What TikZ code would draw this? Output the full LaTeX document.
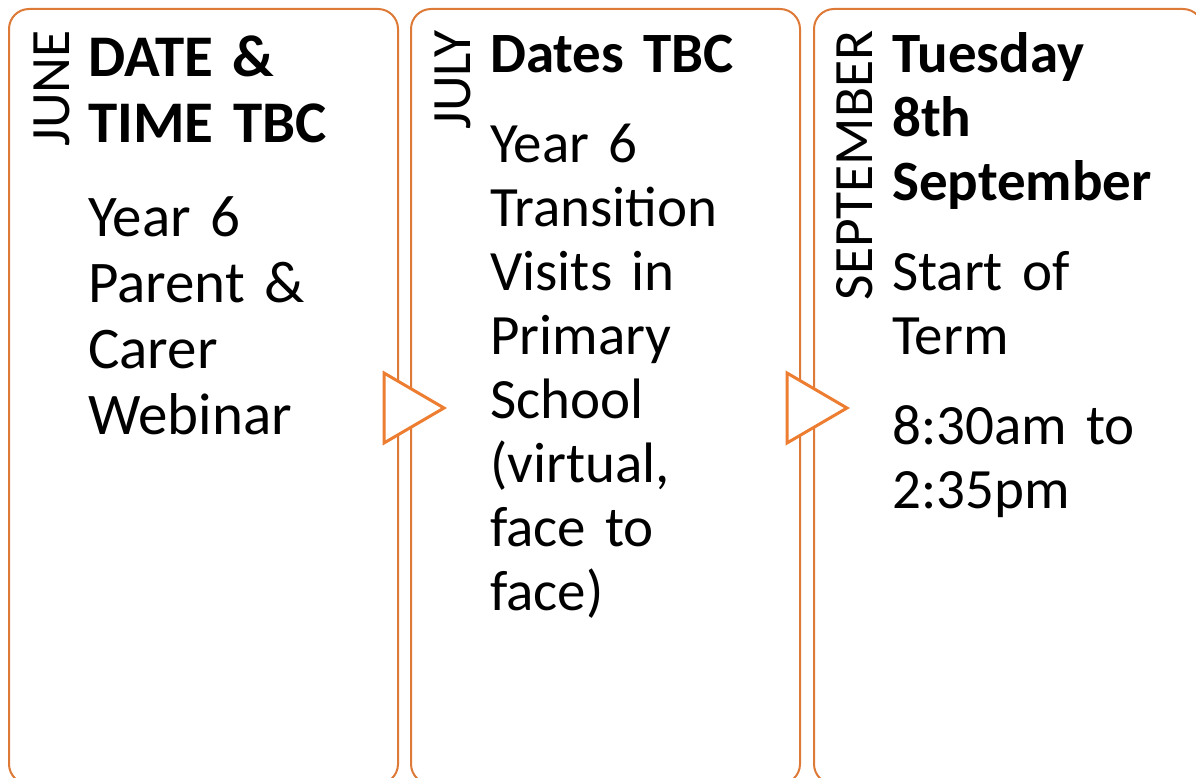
\documentclass[tikz,border=0pt]{standalone}
\usepackage{fontspec}
\setmainfont{Carlito}
\usetikzlibrary{calc}
\setlength{\parindent}{0pt}

\definecolor{cardline}{HTML}{DE7A38}
\definecolor{chevron}{HTML}{ED7D31}

\begin{document}
\begin{tikzpicture}[x=1pt, y=-1pt,
  card/.style={draw=cardline, line width=2pt, rounded corners=20pt, fill=white,
    minimum width=389pt, minimum height=775pt, inner sep=0pt, anchor=north west},
  month/.style={rotate=90, anchor=base east, inner sep=0pt,
    font=\fontsize{55.5}{60}\selectfont},
  entry/.style={anchor=base west, inner sep=0pt, align=left, text width=300pt,
    font=\fontsize{57}{64}\selectfont},
  arrowhead/.style={draw=chevron, line width=3pt, fill=white, line join=miter}]
  \useasboundingbox (0,0) rectangle (1196,778);

  % the three cards
  \node[card] (june) at (8,8) {};
  \node[card] (july) at (410,8) {};
  \node[card] (sept) at (813,8) {};

  % chevrons between the cards
  \draw[arrowhead] ($(june.north east)+(-15,365)$) -- ($(june.north east)+(45,400)$)
    -- ($(june.north east)+(-15,435)$) -- cycle;
  \draw[arrowhead] ($(july.north east)+(-14,365)$) -- ($(july.north east)+(46,400)$)
    -- ($(july.north east)+(-14,435)$) -- cycle;

  % months, written upwards
  \node[month] (junemonth) at ($(june.north west)+(61,22)$) {JUNE};
  \node[month] (julymonth) at ($(july.north west)+(60,22)$) {JULY};
  \node[month] (septmonth) at ($(sept.north west)+(59,22)$) {SEPTEMBER};

  % dates and events (the first card is set a little larger)
  \node[entry, font=\fontsize{59}{66}\selectfont] (junetext)
    at ($(june.north west)+(80,69)$)
    {\textbf{DATE \&\\TIME TBC}\par\vspace{28pt}
     Year 6\\Parent \&\\Carer\\Webinar};
  \node[entry] (julytext) at ($(july.north west)+(80,65)$)
    {\textbf{Dates TBC}\par\vspace{26pt}
     Year 6\\Transition\\Visits in\\Primary\\School\\(virtual,\\face to\\face)};
  \node[entry] (septtext) at ($(sept.north west)+(79,65)$)
    {\textbf{Tuesday\\8th\\September}\par\vspace{26pt}
     Start of\\Term\par\vspace{26pt}
     8:30am to\\2:35pm};
\end{tikzpicture}
\end{document}
